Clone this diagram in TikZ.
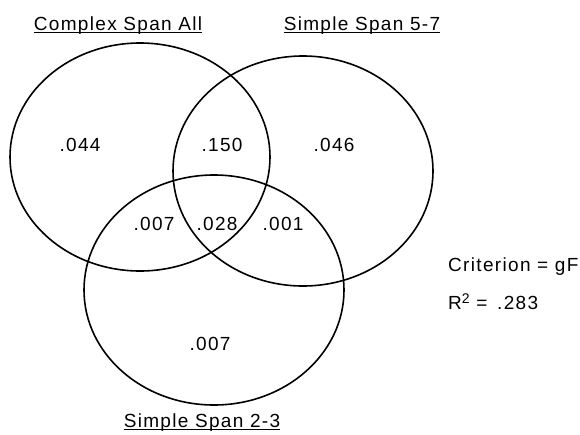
\documentclass[tikz,border=0pt]{standalone}
\usepackage{fontspec}
\setmainfont{Liberation Sans}[LetterSpace=7]
\begin{document}
\begin{tikzpicture}[x=1pt,y=-1pt,
  setline/.style={draw=black,line width=1.6pt},
  num/.style={inner sep=0pt,anchor=base,font=\fontsize{19}{21}\selectfont},
  ttl/.style={inner sep=0pt,anchor=base,font=\fontsize{19}{21}\selectfont},
  uline/.style={line width=1pt}]
\useasboundingbox (0,0) rectangle (580,434);
% sets
\draw[setline] (140,157) ellipse [x radius=130, y radius=114];
\draw[setline] (303,171) ellipse [x radius=130, y radius=115];
\draw[setline] (214,290) ellipse [x radius=130, y radius=115];
% titles
\node[ttl] (t1) at (118,30) {Complex Span All};
\node[ttl] (t2) at (362,30) {Simple Span 5-7};
\node[ttl] (t3) at (202,427) {Simple Span 2-3};
\foreach \t in {t1,t2,t3}
  \draw[uline] ([yshift=-2.5pt]\t.base west) -- ([yshift=-2.5pt]\t.base east);
% values
\node[num] (a) at (80,151) {.044};
\node[num] (ab) at (222,151) {.150};
\node[num] (b) at (334,151) {.046};
\node[num] (ac) at (154,230) {.007};
\node[num] (abc) at (217,230) {.028};
\node[num] (bc) at (283,230) {.001};
\node[num] (c) at (210,350) {.007};
% criterion
\node[num,anchor=base west] (crit) at (448,271) {Criterion = gF};
\node[num,anchor=base west] (r2) at (448,309) {R\raisebox{0.3em}{\fontsize{14}{14}\selectfont 2} = \,.283};
\end{tikzpicture}
\end{document}
